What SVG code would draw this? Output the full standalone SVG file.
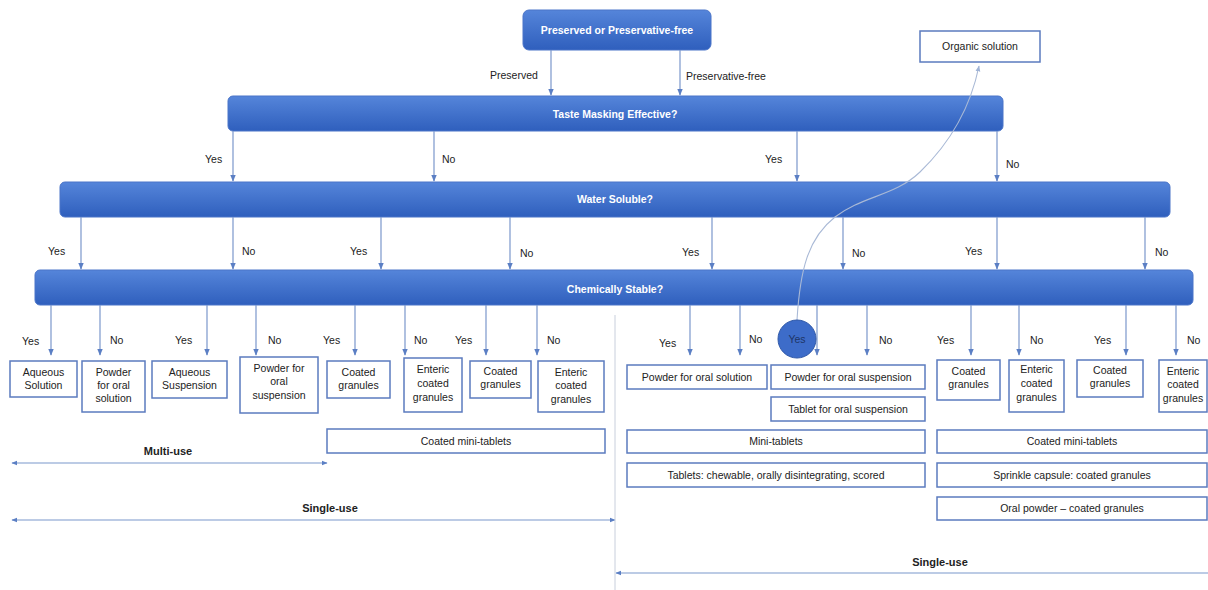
<svg xmlns="http://www.w3.org/2000/svg" width="1208" height="590" viewBox="0 0 1208 590">
<defs>
<linearGradient id="bg" x1="0" y1="0" x2="0" y2="1">
<stop offset="0" stop-color="#5585da"/>
<stop offset="1" stop-color="#2f5fbd"/>
</linearGradient>
<marker id="ah" viewBox="0 0 10 10" refX="9" refY="5" markerWidth="7" markerHeight="7" markerUnits="userSpaceOnUse" orient="auto">
<path d="M0,1 L10,5 L0,9 z" fill="#5b7fc4"/>
</marker>
<marker id="as" viewBox="0 0 10 10" refX="9" refY="5" markerWidth="6" markerHeight="6" markerUnits="userSpaceOnUse" orient="auto-start-reverse">
<path d="M0,1 L10,5 L0,9 z" fill="#5b7fc4"/>
</marker>
<marker id="ac" viewBox="0 0 10 10" refX="9" refY="5" markerWidth="6" markerHeight="6" markerUnits="userSpaceOnUse" orient="auto">
<path d="M0,1 L10,5 L0,9 z" fill="#9fb3d6"/>
</marker>
</defs>
<style>
.bar{fill:url(#bg);stroke:#4a74c8;stroke-width:1}
.bt{font-family:"Liberation Sans",Arial,sans-serif;font-size:10.5px;font-weight:bold;fill:#ffffff;text-anchor:middle}
.box{fill:#ffffff;stroke:#5b7bbf;stroke-width:1.5}
.t{font-family:"Liberation Sans",Arial,sans-serif;font-size:10.5px;fill:#222;text-anchor:middle}
.l{font-family:"Liberation Sans",Arial,sans-serif;font-size:10.5px;fill:#222}
.b{font-family:"Liberation Sans",Arial,sans-serif;font-size:11px;font-weight:bold;fill:#222;text-anchor:middle}
.c{stroke:#7b97cc;stroke-width:1.2;fill:none;marker-end:url(#ah)}
.d{stroke:#7b97cc;stroke-width:1.2;fill:none;marker-end:url(#as);marker-start:url(#as)}
</style>

<g id="n-top"><rect class="bar" x="523" y="10" width="188" height="40" rx="6"/><text class="bt" x="617" y="34">Preserved or Preservative-free</text></g>
<g id="n-taste"><rect class="bar" x="228" y="96" width="775" height="35" rx="5"/><text class="bt" x="615" y="118">Taste Masking Effective?</text></g>
<g id="n-water"><rect class="bar" x="60" y="182" width="1110" height="35" rx="5"/><text class="bt" x="615" y="203">Water Soluble?</text></g>
<g id="n-chem"><rect class="bar" x="35" y="270" width="1158" height="35" rx="5"/><text class="bt" x="615" y="293">Chemically Stable?</text></g>

<g id="connectors">
<path class="c" d="M551,50 V95"/>
<path class="c" d="M680,50 V95"/>
<path class="c" d="M233,131 V181"/>
<path class="c" d="M434,131 V181"/>
<path class="c" d="M797,131 V181"/>
<path class="c" d="M997,131 V181"/>
<path class="c" d="M81,217 V269"/>
<path class="c" d="M233,217 V269"/>
<path class="c" d="M381,217 V269"/>
<path class="c" d="M510,217 V269"/>
<path class="c" d="M712,217 V269"/>
<path class="c" d="M843,217 V269"/>
<path class="c" d="M997,217 V269"/>
<path class="c" d="M1145,217 V269"/>
<path class="c" d="M51,305 V355"/>
<path class="c" d="M100,305 V355"/>
<path class="c" d="M207,305 V355"/>
<path class="c" d="M256,305 V355"/>
<path class="c" d="M355,305 V355"/>
<path class="c" d="M405,305 V355"/>
<path class="c" d="M486,305 V355"/>
<path class="c" d="M537,305 V355"/>
<path class="c" d="M690,305 V355"/>
<path class="c" d="M740,305 V355"/>
<path class="c" d="M817,305 V355"/>
<path class="c" d="M867,305 V355"/>
<path class="c" d="M971,305 V355"/>
<path class="c" d="M1019,305 V355"/>
<path class="c" d="M1126,305 V355"/>
<path class="c" d="M1176,305 V355"/>
<path d="M797,320 C800,270 808,238 835,217 C862,196 895,196 920,172 C950,143 970,110 979,66" stroke="#a9b9d6" stroke-width="1.1" fill="none" marker-end="url(#ac)"/>
<path class="d" d="M12,463 H327"/>
<path class="d" d="M12,520 H615"/>
<path class="c" d="M1208,573 H616" style="marker-end:url(#as)"/>
<path d="M615,315 V590" stroke="#c8cfdc" stroke-width="1"/>
</g>

<g id="edge-labels">
<text class="l" x="490" y="79">Preserved</text>
<text class="l" x="686" y="80">Preservative-free</text>
<text class="l" x="205" y="163">Yes</text>
<text class="l" x="442" y="163">No</text>
<text class="l" x="765" y="163">Yes</text>
<text class="l" x="1006" y="168">No</text>
<text class="l" x="48" y="255">Yes</text>
<text class="l" x="242" y="255">No</text>
<text class="l" x="350" y="255">Yes</text>
<text class="l" x="520" y="257">No</text>
<text class="l" x="682" y="256">Yes</text>
<text class="l" x="852" y="257">No</text>
<text class="l" x="965" y="255">Yes</text>
<text class="l" x="1155" y="256">No</text>
<text class="l" x="22" y="345">Yes</text>
<text class="l" x="110" y="344">No</text>
<text class="l" x="175" y="344">Yes</text>
<text class="l" x="268" y="344">No</text>
<text class="l" x="323" y="344">Yes</text>
<text class="l" x="414" y="344">No</text>
<text class="l" x="455" y="344">Yes</text>
<text class="l" x="547" y="344">No</text>
<text class="l" x="659" y="347">Yes</text>
<text class="l" x="749" y="343">No</text>
<text class="l" x="879" y="344">No</text>
<text class="l" x="937" y="344">Yes</text>
<text class="l" x="1030" y="344">No</text>
<text class="l" x="1094" y="344">Yes</text>
<text class="l" x="1187" y="344">No</text>
</g>

<g id="n-yes-circle"><circle cx="797" cy="339" r="19" fill="#3d6cc9" stroke="#2f58a8" stroke-width="1"/><text class="t" x="797" y="343" style="fill:#1e3566">Yes</text></g>

<g id="n-organic"><rect class="box" x="920" y="31" width="120" height="31"/><text class="t" x="980" y="50">Organic solution</text></g>

<g id="n-l1"><rect class="box" x="10" y="361" width="67" height="36"/><text class="t" x="43.5" y="376">Aqueous</text><text class="t" x="43.5" y="389">Solution</text></g>
<g id="n-l2"><rect class="box" x="82" y="361" width="63" height="51"/><text class="t" x="113.5" y="376">Powder</text><text class="t" x="113.5" y="389">for oral</text><text class="t" x="113.5" y="402">solution</text></g>
<g id="n-l3"><rect class="box" x="152" y="361" width="75" height="37"/><text class="t" x="189.5" y="376">Aqueous</text><text class="t" x="189.5" y="389">Suspension</text></g>
<g id="n-l4"><rect class="box" x="240" y="357" width="78" height="56"/><text class="t" x="279" y="372">Powder for</text><text class="t" x="279" y="385">oral</text><text class="t" x="279" y="399">suspension</text></g>
<g id="n-l5"><rect class="box" x="327" y="361" width="63" height="37"/><text class="t" x="358.5" y="376">Coated</text><text class="t" x="358.5" y="389">granules</text></g>
<g id="n-l6"><rect class="box" x="404" y="358" width="58" height="54"/><text class="t" x="433" y="373">Enteric</text><text class="t" x="433" y="387">coated</text><text class="t" x="433" y="401">granules</text></g>
<g id="n-l7"><rect class="box" x="470" y="361" width="61" height="37"/><text class="t" x="500.5" y="375">Coated</text><text class="t" x="500.5" y="388">granules</text></g>
<g id="n-l8"><rect class="box" x="538" y="361" width="66" height="51"/><text class="t" x="571" y="376">Enteric</text><text class="t" x="571" y="389">coated</text><text class="t" x="571" y="403">granules</text></g>
<g id="n-l9"><rect class="box" x="327" y="429" width="278" height="24"/><text class="t" x="466" y="445">Coated mini-tablets</text></g>

<g id="n-r1"><rect class="box" x="627" y="365" width="140" height="24"/><text class="t" x="697" y="381">Powder for oral solution</text></g>
<g id="n-r2"><rect class="box" x="771" y="365" width="154" height="24"/><text class="t" x="848" y="381">Powder for oral suspension</text></g>
<g id="n-r3"><rect class="box" x="771" y="397" width="154" height="24"/><text class="t" x="848" y="413">Tablet for oral suspension</text></g>
<g id="n-r4"><rect class="box" x="937" y="360" width="63" height="40"/><text class="t" x="968.5" y="375">Coated</text><text class="t" x="968.5" y="388">granules</text></g>
<g id="n-r5"><rect class="box" x="1009" y="360" width="55" height="52"/><text class="t" x="1036.5" y="373">Enteric</text><text class="t" x="1036.5" y="387">coated</text><text class="t" x="1036.5" y="401">granules</text></g>
<g id="n-r6"><rect class="box" x="1077" y="360" width="66" height="37"/><text class="t" x="1110" y="374">Coated</text><text class="t" x="1110" y="387">granules</text></g>
<g id="n-r7"><rect class="box" x="1159" y="360" width="48" height="52"/><text class="t" x="1183" y="375">Enteric</text><text class="t" x="1183" y="388">coated</text><text class="t" x="1183" y="402">granules</text></g>
<g id="n-r8"><rect class="box" x="627" y="430" width="298" height="23"/><text class="t" x="776" y="445">Mini-tablets</text></g>
<g id="n-r9"><rect class="box" x="627" y="463" width="298" height="24"/><text class="t" x="776" y="479">Tablets: chewable, orally disintegrating, scored</text></g>
<g id="n-r10"><rect class="box" x="937" y="430" width="270" height="23"/><text class="t" x="1072" y="445">Coated mini-tablets</text></g>
<g id="n-r11"><rect class="box" x="937" y="463" width="270" height="24"/><text class="t" x="1072" y="479">Sprinkle capsule: coated granules</text></g>
<g id="n-r12"><rect class="box" x="937" y="497" width="270" height="23"/><text class="t" x="1072" y="512">Oral powder – coated granules</text></g>

<g id="range-labels">
<text class="b" x="168" y="455">Multi-use</text>
<text class="b" x="330" y="512">Single-use</text>
<text class="b" x="940" y="566">Single-use</text>
</g>
</svg>
